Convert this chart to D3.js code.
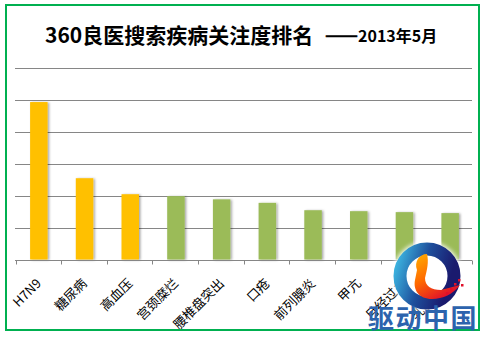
<!DOCTYPE html>
<html><head><meta charset="utf-8">
<script src="https://cdn.jsdelivr.net/npm/d3@7"></script>
<style>html,body{margin:0;padding:0;background:#fff;}svg{display:block;}</style>
</head><body>
<script>
const categories = ["H7N9","糖尿病","高血压","宫颈糜烂","腰椎盘突出","口疮","前列腺炎","甲亢","月经过多","乳腺增生"];
const values = [4.92,2.54,2.04,1.98,1.88,1.77,1.54,1.51,1.48,1.45];
const highlight = [true,true,true,false,false,false,false,false,false,false];
const yTicks = [0,1,2,3,4,5,6];
const titleMain = "360良医搜索疾病关注度排名";
const titleDash = "——";
const titleDate = "2013年5月";
const logoText = "驱动中国";

const W = 486, H = 337;
const svg = d3.select("body").append("svg").attr("width", W).attr("height", H);
const defs = svg.append("defs");
const sh = defs.append("filter").attr("id","sh").attr("x","-50%").attr("y","-20%").attr("width","200%").attr("height","140%");
sh.append("feDropShadow").attr("dx",1.5).attr("dy",0.5).attr("stdDeviation",1.3).attr("flood-color","#000").attr("flood-opacity",0.35);

svg.append("rect").attr("width",W).attr("height",H).attr("fill","#fff");

const x = d3.scaleBand().domain(categories).range([16, 473]).paddingInner(0.617).paddingOuter(0.3085);
const y = d3.scaleLinear().domain([0, 6]).range([259.5, 67.5]);

// gridlines
svg.append("g").selectAll("line").data(yTicks.filter(d => d > 0)).join("line")
  .attr("x1", 15).attr("x2", 472)
  .attr("y1", d => Math.round(y(d)) + 0.5).attr("y2", d => Math.round(y(d)) + 0.5)
  .attr("stroke", "#868686").attr("stroke-width", 1);

// bars
svg.append("g").selectAll("rect").data(categories).join("rect")
  .attr("x", d => x(d)).attr("width", x.bandwidth())
  .attr("y", (d,i) => y(values[i])).attr("height", (d,i) => y(0) - y(values[i]))
  .attr("fill", (d,i) => highlight[i] ? "#FFC000" : "#9BBB59")
  .attr("filter", "url(#sh)");

// axis line and ticks
const base = Math.round(y(0)) + 0.5;
svg.append("line").attr("x1",15).attr("x2",472).attr("y1",base).attr("y2",base).attr("stroke","#868686");
const tickPos = d3.range(categories.length + 1).map(i => 15.5 + i * (456.5 / categories.length));
svg.append("g").selectAll("line").data(tickPos).join("line")
  .attr("x1", d => Math.round(d) + 0.5).attr("x2", d => Math.round(d) + 0.5)
  .attr("y1", base).attr("y2", base + 4).attr("stroke", "#868686");

// labels
svg.append("g").selectAll("text").data(categories).join("text")
  .attr("transform", d => `translate(${x(d) + x.bandwidth()/2},${281}) rotate(-45)`)
  .attr("text-anchor", "end").attr("dy", "0.35em")
  .attr("font-family", "'Noto Sans CJK SC', sans-serif").attr("font-size", 13)
  .attr("fill", "#000").text(d => d);

// border
svg.append("rect").attr("x",6).attr("y",5).attr("width",473).attr("height",325)
  .attr("fill","none").attr("stroke","#00B050").attr("stroke-width",2);

// title
svg.append("text").attr("x", 45).attr("y", 43)
  .attr("font-family", "'Noto Sans CJK SC', sans-serif").attr("font-weight", "bold")
  .attr("font-size", 21).attr("fill", "#000").text(titleMain);
svg.append("text").attr("x", 325).attr("y", 41)
  .attr("font-family", "'Noto Sans CJK SC', sans-serif").attr("font-weight", "bold")
  .attr("font-size", 16).attr("fill", "#000").attr("stroke", "#000").attr("stroke-width", 0.4)
  .attr("textLength", 33).attr("lengthAdjust", "spacingAndGlyphs").text(titleDash);
svg.append("text").attr("x", 358).attr("y", 42)
  .attr("font-family", "'Noto Sans CJK SC', sans-serif").attr("font-weight", "bold")
  .attr("font-size", 16).attr("fill", "#000").text(titleDate);

// watermark logo
const glow = defs.append("filter").attr("id","glow").attr("x","-50%").attr("y","-50%").attr("width","200%").attr("height","200%");
glow.append("feGaussianBlur").attr("stdDeviation",2);
const ringG = defs.append("linearGradient").attr("id","ring").attr("x1","0").attr("y1","0").attr("x2","1").attr("y2","0.3");
ringG.append("stop").attr("offset","0").attr("stop-color","#3cb4e0");
ringG.append("stop").attr("offset","0.5").attr("stop-color","#1e4f9c");
ringG.append("stop").attr("offset","1").attr("stop-color","#1a1a6e");
const birdG = defs.append("linearGradient").attr("id","bird").attr("x1","0").attr("y1","0").attr("x2","0.6").attr("y2","1");
birdG.append("stop").attr("offset","0").attr("stop-color","#ffb000");
birdG.append("stop").attr("offset","0.5").attr("stop-color","#ff6a00");
birdG.append("stop").attr("offset","1").attr("stop-color","#e0102a");

const logo = svg.append("g");
logo.append("circle").attr("cx",427).attr("cy",276).attr("r",35).attr("fill","#fff").attr("opacity",0.9).attr("filter","url(#glow)");
logo.append("circle").attr("cx",427).attr("cy",276).attr("r",27).attr("fill","#fff")
  .attr("stroke","url(#ring)").attr("stroke-width",13);
logo.append("path")
  .attr("d","M417,270 C414,262 419,254 427,254 C429,262 427,270 425,278 C425,286 431,290 441,290 L460,285 C453,294 443,299 432,299 C419,299 413,290 415,280 Z")
  .attr("fill","url(#bird)");
logo.append("g").selectAll("rect").data([[454,283],[458,279],[450,288],[461,284],[446,292]]).join("rect")
  .attr("x",d=>d[0]).attr("y",d=>d[1]).attr("width",2.5).attr("height",2.5).attr("fill","#e0102a");
logo.append("text").attr("x", 368).attr("y", 328)
  .attr("font-family", "'Noto Sans CJK SC', sans-serif").attr("font-weight", "bold")
  .attr("font-size", 26).attr("fill", "#2c63ad").attr("letter-spacing", 1.5)
  .text(logoText);
</script>
</body></html>
